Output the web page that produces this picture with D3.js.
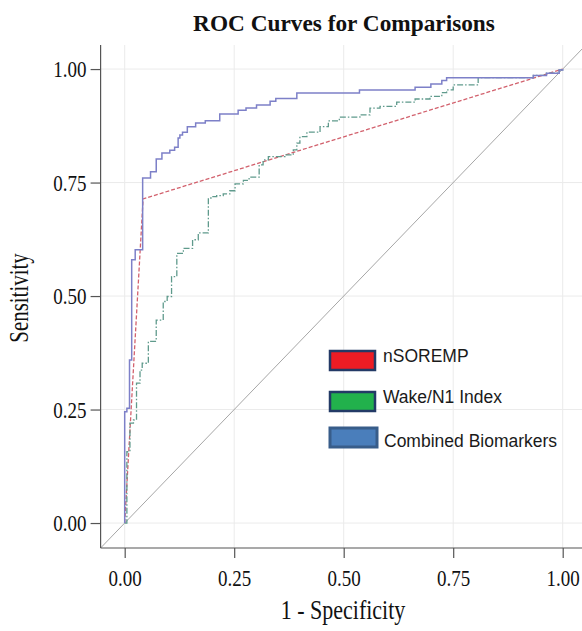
<!DOCTYPE html>
<html>
<head>
<meta charset="utf-8">
<script src="https://cdn.jsdelivr.net/npm/d3@7"></script>
<style>
  html, body { margin: 0; padding: 0; background: #fff; }
  svg { display: block; }
</style>
</head>
<body>
<svg id="chart" width="582" height="631"></svg>
<script>
// ---- Data ----
const xTicks = [0, 0.25, 0.5, 0.75, 1];
const yTicks = [0, 0.25, 0.5, 0.75, 1];
const legendLabels = ["nSOREMP", "Wake/N1 Index", "Combined Biomarkers"];

const nsorempFpr = [0, 0.042, 1];
const nsorempTpr = [0, 0.714, 1];

const wakeFpr = [0, 0.005, 0.012, 0.020, 0.027, 0.035, 0.040, 0.054, 0.072, 0.088, 0.097, 0.107, 0.119, 0.134, 0.155, 0.168, 0.191, 0.199, 0.210, 0.225, 0.240, 0.252, 0.271, 0.284, 0.307, 0.316, 0.328, 0.366, 0.385, 0.393, 0.400, 0.416, 0.446, 0.465, 0.490, 0.537, 0.560, 0.583, 0.621, 0.663, 0.697, 0.724, 0.735, 0.750, 0.807, 0.933, 0.963, 0.992, 1];
const wakeTpr = [0, 0.157, 0.220, 0.227, 0.308, 0.337, 0.352, 0.400, 0.447, 0.488, 0.499, 0.543, 0.594, 0.605, 0.624, 0.639, 0.716, 0.719, 0.721, 0.725, 0.732, 0.747, 0.755, 0.762, 0.789, 0.800, 0.807, 0.811, 0.822, 0.837, 0.851, 0.861, 0.873, 0.886, 0.894, 0.899, 0.914, 0.918, 0.927, 0.934, 0.940, 0.948, 0.954, 0.965, 0.981, 0.986, 0.991, 0.998, 1];

const combinedFpr = [0, 0, 0.005, 0.011, 0.016, 0.024, 0.041, 0.059, 0.072, 0.085, 0.103, 0.114, 0.122, 0.126, 0.132, 0.143, 0.162, 0.184, 0.217, 0.259, 0.277, 0.301, 0.332, 0.345, 0.393, 0.536, 0.663, 0.699, 0.724, 0.735, 0.933, 0.963, 0.992, 1];
const combinedTpr = [0, 0.245, 0.253, 0.359, 0.580, 0.602, 0.760, 0.774, 0.802, 0.815, 0.821, 0.828, 0.848, 0.855, 0.861, 0.873, 0.881, 0.886, 0.901, 0.909, 0.914, 0.921, 0.929, 0.935, 0.947, 0.954, 0.960, 0.967, 0.975, 0.981, 0.986, 0.991, 0.998, 1];

// ---- Layout ----
const svg = d3.select("#chart");
const xDom = [-0.055, 1.05], yDom = [-0.055, 1.053];
const x = d3.scaleLinear().domain(xDom).range([100.6, 584.6]);
const y = d3.scaleLinear().domain(yDom).range([548, 45]);

const serif = "'Liberation Serif','Times New Roman',serif";
const sans = "'Liberation Sans',Arial,sans-serif";
const stretch = 1.25;

svg.append("clipPath").attr("id", "plotclip").append("rect")
  .attr("x", x(xDom[0])).attr("y", y(yDom[1]))
  .attr("width", x(xDom[1]) - x(xDom[0])).attr("height", y(yDom[0]) - y(yDom[1]));

// grid
const grid = svg.append("g").attr("stroke", "#ebebeb").attr("stroke-width", 1);
grid.selectAll("line.v").data(xTicks).join("line")
  .attr("x1", d => x(d)).attr("x2", d => x(d))
  .attr("y1", y(yDom[0])).attr("y2", y(yDom[1]));
grid.selectAll("line.h").data(yTicks).join("line")
  .attr("x1", x(xDom[0])).attr("x2", x(xDom[1]))
  .attr("y1", d => y(d)).attr("y2", d => y(d));

const plot = svg.append("g").attr("clip-path", "url(#plotclip)");

// reference diagonal
plot.append("line")
  .attr("x1", x(-0.06)).attr("y1", y(-0.06))
  .attr("x2", x(1.06)).attr("y2", y(1.06))
  .attr("stroke", "#a6a6a6").attr("stroke-width", 1);

const stepLine = d3.line().x(d => x(d[0])).y(d => y(d[1])).curve(d3.curveStepAfter);
const straightLine = d3.line().x(d => x(d[0])).y(d => y(d[1]));

plot.append("path")
  .datum(d3.zip(nsorempFpr, nsorempTpr))
  .attr("d", straightLine)
  .attr("fill", "none").attr("stroke", "#d2616d").attr("stroke-width", 1.3)
  .attr("stroke-dasharray", "4,2");

plot.append("path")
  .datum(d3.zip(wakeFpr, wakeTpr))
  .attr("d", stepLine)
  .attr("fill", "none").attr("stroke", "#5f9a8c").attr("stroke-width", 1.3)
  .attr("stroke-dasharray", "6,2,1.5,2");

plot.append("path")
  .datum(d3.zip(combinedFpr, combinedTpr))
  .attr("d", stepLine)
  .attr("fill", "none").attr("stroke", "#7d80c8").attr("stroke-width", 1.5);

// axes
const xAxis = d3.axisBottom(x).tickValues(xTicks).tickFormat(d3.format(".2f")).tickSize(10);
const yAxis = d3.axisLeft(y).tickValues(yTicks).tickFormat(d3.format(".2f")).tickSize(10).tickPadding(4);

const gx = svg.append("g").attr("transform", `translate(0,${y(yDom[0])})`).call(xAxis);
gx.select(".domain").attr("d", `M${x(xDom[0])},0H${x(xDom[1])}`);
const gy = svg.append("g").attr("transform", `translate(${x(xDom[0])},0)`).call(yAxis);
gy.select(".domain").attr("d", `M0,${y(yDom[0])}V${y(yDom[1])}`);

[gx, gy].forEach(g => {
  g.selectAll(".domain").attr("stroke", "#555").attr("stroke-width", 1.2);
  g.selectAll(".tick line").attr("stroke", "#555").attr("stroke-width", 1.2);
  g.selectAll(".tick text").attr("font-family", serif).attr("font-size", 19).attr("fill", "#111")
    .attr("transform", `scale(1,${stretch})`);
});
gx.selectAll(".tick text").attr("y", 21 / stretch);

// titles
svg.append("text").attr("x", 344).attr("y", 31).attr("text-anchor", "middle")
  .attr("font-family", serif).attr("font-weight", "bold").attr("font-size", 23.3)
  .attr("fill", "#111").text("ROC Curves for Comparisons");

svg.append("text").attr("transform", `translate(343,619) scale(1,${stretch})`).attr("text-anchor", "middle")
  .attr("font-family", serif).attr("font-size", 22).attr("fill", "#111").text("1 - Specificity");

svg.append("text").attr("transform", `translate(28,298) rotate(-90) scale(0.95,${stretch})`).attr("text-anchor", "middle")
  .attr("font-family", serif).attr("font-size", 22).attr("fill", "#111").text("Sensitivity");

// legend
const legendFill = ["#ed1c24", "#22b14c", "#4a7ebb"];
const legendStroke = ["#233a66", "#233a66", "#385d8a"];
const legendY = [351, 392, 428];
const lg = svg.append("g");
legendLabels.forEach((lab, i) => {
  lg.append("rect").attr("x", 330).attr("y", legendY[i])
    .attr("width", i === 2 ? 47 : 45).attr("height", 19)
    .attr("fill", legendFill[i]).attr("stroke", legendStroke[i]).attr("stroke-width", i === 2 ? 3 : 2.5);
  lg.append("text").attr("x", i === 2 ? 384 : 383).attr("y", legendY[i] + (i === 2 ? 19 : 11))
    .attr("font-family", sans).attr("font-size", 17.5).attr("fill", "#1a1a1a").text(lab);
});
</script>
</body>
</html>
